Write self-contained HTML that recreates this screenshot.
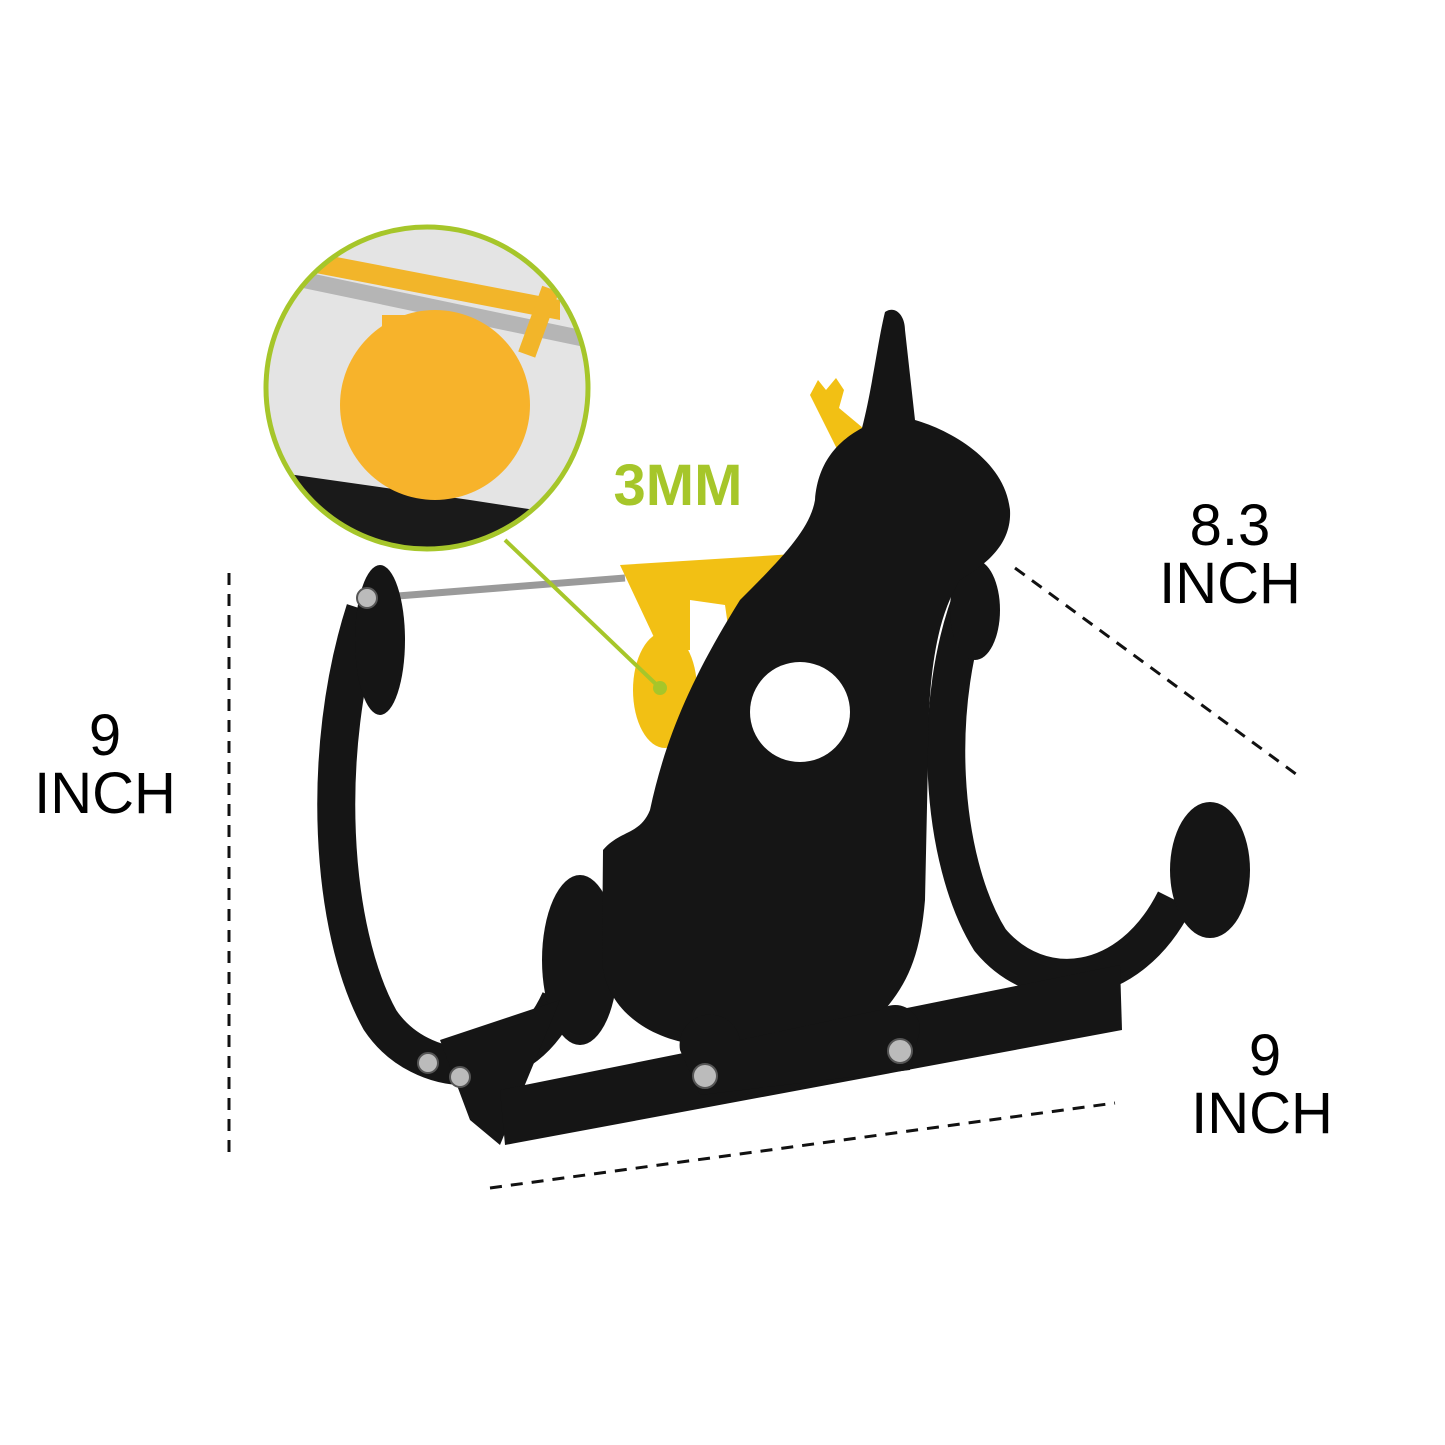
<!DOCTYPE html>
<html><head><meta charset="utf-8"><style>
html,body{margin:0;padding:0;background:#fff;}
svg{display:block}
</style></head><body>
<svg width="1445" height="1445" viewBox="0 0 1445 1445" xmlns="http://www.w3.org/2000/svg">
<rect width="1445" height="1445" fill="#fff"/>
<defs>
<clipPath id="ic"><circle cx="427" cy="388" r="161"/></clipPath>
</defs>
<g stroke="#111" stroke-width="3" stroke-dasharray="12,9" fill="none">
<line x1="229" y1="573" x2="229" y2="1158"/>
<line x1="1015" y1="568" x2="1300" y2="777"/>
<line x1="490" y1="1188" x2="1115" y2="1103"/>
</g>
<g font-family="Liberation Sans, sans-serif" fill="#000" text-anchor="middle" font-size="58">
<text x="105" y="755">9</text>
<text x="105" y="813">INCH</text>
<text x="1230" y="545">8.3</text>
<text x="1230" y="603">INCH</text>
<text x="1265" y="1075">9</text>
<text x="1262" y="1133">INCH</text>
</g>
<text x="678" y="505" font-family="Liberation Sans, sans-serif" font-weight="bold" font-size="58" fill="#a6c62a" text-anchor="middle">3MM</text>

<path d="M975,590 C930,700 940,860 990,940 C1040,1000 1130,990 1175,900" stroke="#151515" stroke-width="38" fill="none"/>
<ellipse cx="1210" cy="870" rx="40" ry="68" fill="#151515"/>
<ellipse cx="975" cy="610" rx="25" ry="50" fill="#151515"/>
<polygon points="620,565 810,553 800,600 760,600 730,640 725,605 690,600 690,650 660,650" fill="#f2c014"/>
<ellipse cx="665" cy="690" rx="32" ry="58" fill="#f2c014"/>
<path d="M810,395 l8,-15 8,10 10,-12 8,12 -5,18 30,25 -30,20 z" fill="#f2c014"/>
<line x1="385" y1="597" x2="625" y2="578" stroke="#9a9a9a" stroke-width="7"/>
<path d="M365,610 C320,750 330,930 380,1020 C420,1080 520,1090 560,1000" stroke="#151515" stroke-width="38" fill="none"/>
<ellipse cx="380" cy="640" rx="25" ry="75" fill="#151515"/>
<ellipse cx="580" cy="960" rx="38" ry="85" fill="#151515"/>
<path d="M440,1040 L470,1120 L500,1145 L560,1000 Z" fill="#151515"/>
<polygon points="500,1090 1120,965 1122,1030 505,1145" fill="#151515"/>
<path d="M885,312 C895,305 905,315 905,330 L915,420 C950,430 1005,460 1010,510 C1012,545 985,565 960,580 C935,620 928,680 928,760 L925,900 C920,960 905,990 875,1020 C870,1030 860,1040 700,1045 C650,1040 605,1010 602,960 L603,850 C620,830 640,835 650,810 C665,740 690,680 740,600 C780,560 810,530 815,500 C818,460 840,440 862,428 C872,390 878,340 885,312 Z" fill="#151515"/>
<circle cx="800" cy="712" r="50" fill="#fff"/>
<path d="M680,1050 a30,30 0 0 1 60,-10 L880,1010 a25,25 0 0 1 40,20 L910,1070 L700,1095 Z" fill="#151515"/>
<g fill="#bbb" stroke="#555" stroke-width="2">
<circle cx="367" cy="598" r="10"/><circle cx="428" cy="1063" r="10"/><circle cx="460" cy="1077" r="10"/>
<circle cx="705" cy="1076" r="12"/><circle cx="900" cy="1051" r="12"/>
</g>
<line x1="505" y1="540" x2="660" y2="688" stroke="#a6c62a" stroke-width="4"/>
<circle cx="660" cy="688" r="7" fill="#a6c62a"/>
<g clip-path="url(#ic)">
<rect x="260" y="220" width="340" height="340" fill="#e4e4e4"/>
<polygon points="260,470 470,500 600,520 600,560 260,560" fill="#1a1a1a"/>
<polygon points="300,250 560,300 560,320 300,270" fill="#f2b52a"/>
<line x1="280" y1="275" x2="590" y2="340" stroke="#b5b5b5" stroke-width="16"/>
<circle cx="435" cy="405" r="95" fill="#f7b32b"/>
<rect x="382" y="315" width="70" height="30" fill="#f7b32b"/>
<rect x="530" y="285" width="18" height="70" fill="#f2b52a" transform="rotate(20 534 320)"/>
</g>
<circle cx="427" cy="388" r="161" fill="none" stroke="#a6c62a" stroke-width="5"/>
</svg>
</body></html>
